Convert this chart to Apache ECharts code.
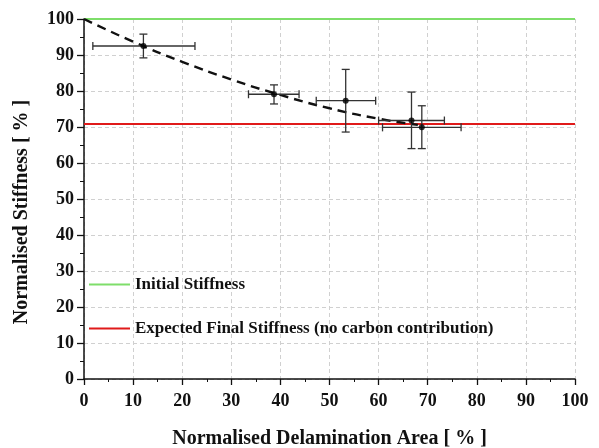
<!DOCTYPE html>
<html>
<head>
<meta charset="utf-8">
<script src="https://cdn.jsdelivr.net/npm/echarts@6/dist/echarts.min.js"></script>
<style>
  html, body { margin: 0; padding: 0; background: #fff; }
  #chart { width: 599px; height: 448px; }
</style>
</head>
<body>
<div id="chart"></div>
<script>
// measured points with error bars
const xVals = [12.1, 38.7, 53.3, 66.7, 68.8];
const yVals = [92.5, 79.1, 77.3, 71.8, 69.9];
const xLow = [1.8, 33.5, 47.3, 60.0, 60.8];
const xHigh = [22.6, 43.8, 59.4, 73.4, 76.8];
const yLow = [89.2, 76.4, 68.6, 64.0, 64.0];
const yHigh = [95.8, 81.7, 86.0, 79.7, 75.9];

// dashed trend curve
const fitX = [0, 10, 20, 30, 40, 50, 60, 68];
const fitY = [100, 93.7, 88.1, 83.2, 78.9, 75.2, 72.3, 70.6];

const initialStiffness = 100;
const finalStiffness = 70.8;
const xRange = [0, 100];

const serif = '"Liberation Serif", "DejaVu Serif", serif';

const errData = xVals.map((x, i) => [x, yVals[i], xLow[i], xHigh[i], yLow[i], yHigh[i]]);

function renderErr(params, api) {
    const c = api.coord([api.value(0), api.value(1)]);
    const l = api.coord([api.value(2), api.value(1)]);
    const r = api.coord([api.value(3), api.value(1)]);
    const lo = api.coord([api.value(0), api.value(4)]);
    const hi = api.coord([api.value(0), api.value(5)]);
    const cap = 4;
    const style = { stroke: '#333', lineWidth: 1.3 };
    const seg = (x1, y1, x2, y2) => ({ type: 'line', shape: { x1, y1, x2, y2 }, style });
    return {
        type: 'group',
        children: [
            seg(l[0], c[1], r[0], c[1]),
            seg(l[0], c[1] - cap, l[0], c[1] + cap),
            seg(r[0], c[1] - cap, r[0], c[1] + cap),
            seg(c[0], lo[1], c[0], hi[1]),
            seg(c[0] - cap, lo[1], c[0] + cap, lo[1]),
            seg(c[0] - cap, hi[1], c[0] + cap, hi[1])
        ]
    };
}

const chart = echarts.init(document.getElementById('chart'));
chart.setOption({
    animation: false,
    grid: { left: 84, right: 24, top: 19, bottom: 69, outerBoundsMode: 'none' },
    legend: {
        data: ['Initial Stiffness', 'Expected Final Stiffness (no carbon contribution)'],
        orient: 'vertical',
        left: 84,
        top: 271,
        icon: 'rect',
        itemWidth: 41,
        itemHeight: 2,
        itemGap: 27,
        textStyle: { fontFamily: serif, fontWeight: 'bold', fontSize: 17, color: '#111' }
    },
    xAxis: {
        type: 'value',
        min: 0, max: 100, interval: 10,
        name: 'Normalised Delamination Area [ % ]',
        nameLocation: 'middle',
        nameGap: 50,
        nameTextStyle: { fontFamily: serif, fontWeight: 'bold', fontSize: 20, color: '#111' },
        axisLine: { show: true, lineStyle: { color: '#111', width: 1.5 } },
        axisTick: { show: true, length: 6, lineStyle: { color: '#111', width: 1.3 } },
        minorTick: { show: true, splitNumber: 2, length: 3, lineStyle: { color: '#111' } },
        axisLabel: { fontFamily: serif, fontWeight: 'bold', fontSize: 18, color: '#111', margin: 13 },
        splitLine: { show: true, lineStyle: { color: '#d0d0d0', type: [4, 3] } }
    },
    yAxis: {
        type: 'value',
        min: 0, max: 100, interval: 10,
        name: 'Normalised Stiffness [ % ]',
        nameLocation: 'middle',
        nameGap: 52,
        nameTextStyle: { fontFamily: serif, fontWeight: 'bold', fontSize: 20, color: '#111', padding: [0, 26, 0, 0] },
        axisLine: { show: true, lineStyle: { color: '#111', width: 1.5 } },
        axisTick: { show: true, length: 7, lineStyle: { color: '#111', width: 1.3 } },
        minorTick: { show: true, splitNumber: 2, length: 4, lineStyle: { color: '#111' } },
        axisLabel: { fontFamily: serif, fontWeight: 'bold', fontSize: 18, color: '#111', margin: 10 },
        splitLine: { show: true, lineStyle: { color: '#d0d0d0', type: [4, 3] } }
    },
    series: [
        {
            name: 'Initial Stiffness',
            type: 'line',
            data: xRange.map(x => [x, initialStiffness]),
            showSymbol: false,
            lineStyle: { color: '#7ede6a', width: 2 },
            itemStyle: { color: '#7ede6a' },
            z: 3
        },
        {
            name: 'Expected Final Stiffness (no carbon contribution)',
            type: 'line',
            data: xRange.map(x => [x, finalStiffness]),
            showSymbol: false,
            lineStyle: { color: '#e01a1a', width: 2 },
            itemStyle: { color: '#e01a1a' },
            z: 3
        },
        {
            name: 'fit',
            type: 'line',
            data: fitX.map((x, i) => [x, fitY[i]]),
            smooth: true,
            showSymbol: false,
            lineStyle: { color: '#111', width: 2.4, type: [9, 6] },
            z: 4
        },
        {
            name: 'err',
            type: 'custom',
            renderItem: renderErr,
            data: errData,
            encode: { x: [0, 2, 3], y: [1, 4, 5] },
            z: 5
        },
        {
            name: 'points',
            type: 'scatter',
            data: xVals.map((x, i) => [x, yVals[i]]),
            symbolSize: 6,
            itemStyle: { color: '#000' },
            z: 6
        }
    ]
});
</script>
</body>
</html>
